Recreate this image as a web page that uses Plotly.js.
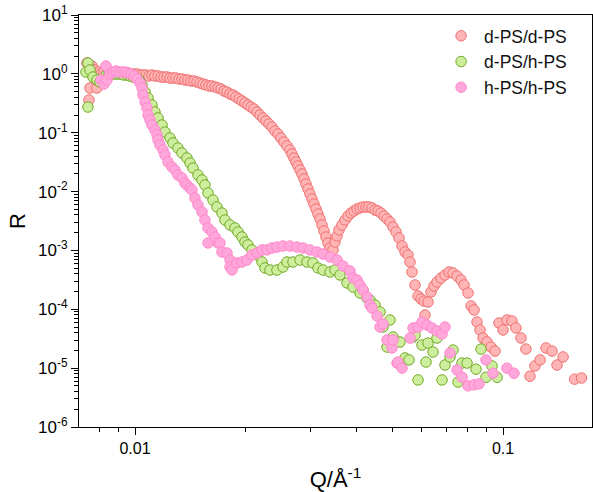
<!DOCTYPE html>
<html><head><meta charset="utf-8">
<script src="https://cdn.plot.ly/plotly-3.0.1.min.js"></script>
<style>html,body{margin:0;padding:0;background:#fff}#chart{width:593px;height:492px}</style>
</head><body><div id="chart"></div>
<script>
const seriesNames = ["d-PS/d-PS", "d-PS/h-PS", "h-PS/h-PS"];

// d-PS/d-PS
const q_dd = [0.007403,0.007496,0.007543,0.007638,0.007783,0.007881,0.007980,0.008081,0.008234,0.008390,0.008549,0.008711,0.008877,0.009045,0.009217,0.009392,0.009570,0.009751,0.009937,
0.01013,0.01032,0.01051,0.01071,0.01091,0.01112,0.01133,0.01155,0.01177,0.01199,0.01222,0.01245,0.01268,0.01292,0.01317,0.01342,0.01367,0.01393,0.01419,0.01446,0.01474,
0.01502,0.01530,0.01559,0.01589,0.01619,0.01650,0.01681,0.01713,0.01745,0.01778,0.01812,0.01846,0.01881,0.01917,0.01953,0.01990,0.02027,0.02066,0.02105,0.02145,
0.02186,0.02227,0.02269,0.02312,0.02356,0.02400,0.02446,0.02492,0.02540,0.02588,0.02637,0.02670,0.02704,0.02738,0.02772,0.02808,0.02843,0.02879,0.02915,0.02952,
0.02989,0.03026,0.03064,0.03103,0.03142,0.03182,0.03222,0.03262,0.03303,0.03345,0.03388,0.03452,0.03495,0.03539,0.03584,0.03652,0.03721,0.03792,0.03863,0.03936,
0.04011,0.04087,0.04164,0.04243,0.04324,0.04406,0.04489,0.04574,0.04661,0.04750,0.04840,0.04931,0.05025,0.05120,0.05217,0.05316,0.05417,0.05519,0.05589,0.05659,
0.05766,0.05876,0.05987,0.06100,0.06139,0.06255,0.06373,0.06494,0.06617,0.06785,0.06957,0.07134,0.07314,0.07500,0.07690,0.07836,0.08035,0.08187,0.08342,0.08500,
0.08661,0.08825,0.09047,0.09277,0.09512,0.09753,0.1000,0.1025,0.1058,0.1084,0.1119,0.1154,0.1184,0.1221,0.1261,0.1309,0.1359,0.1402,0.1456,0.1565,0.1634];
const r_dd = [1.529,0.360,0.575,1.360,1.163,0.575,1.075,0.994,1.075,1.034,1.075,1.034,1.075,1.034,1.034,0.994,1.034,0.994,0.994,
0.994,0.956,0.956,0.956,0.920,0.956,0.920,0.920,0.884,0.884,0.884,0.850,0.850,0.850,0.818,0.818,0.786,0.786,0.756,0.756,0.727,
0.699,0.672,0.647,0.622,0.622,0.598,0.575,0.553,0.511,0.492,0.455,0.437,0.404,0.374,0.346,0.320,0.296,0.273,0.253,0.225,
0.200,0.178,0.1582,0.1406,0.1250,0.1069,0.0951,0.0813,0.0696,0.0595,0.0509,0.0435,0.0372,0.0318,0.0272,0.02326,0.01989,0.01636,0.01345,0.01106,
0.00910,0.00748,0.00615,0.00506,0.00416,0.00342,0.00271,0.00214,0.00169,0.00134,0.00110,0.00102,0.00139,0.00176,0.00223,0.00271,0.00329,0.00385,0.00432,0.00468,
0.00506,0.00526,0.00547,0.00547,0.00547,0.00526,0.00486,0.00468,0.00432,0.00385,0.00342,0.00304,0.00250,0.00206,0.00163,0.00119,0.000941,0.000837,0.000636,0.000430,
0.000259,0.000168,0.000150,0.000138,0.0000800,0.000133,0.000197,0.000249,0.000291,0.000340,0.000383,0.000430,0.000414,0.000368,0.000315,0.000259,0.000189,0.000114,0.0000973,0.0000608,
0.0000445,0.0000325,0.0000278,0.0000228,0.0000195,0.0000585,0.0000445,0.0000658,0.0000633,0.0000481,0.0000325,0.0000211,0.0000073,0.0000109,0.0000138,0.0000220,0.0000195,0.0000113,0.0000155,0.0000065,0.0000068];

// d-PS/h-PS
const q_dh = [0.007357,0.007449,0.007449,0.007543,0.007686,0.007881,0.008030,0.008183,0.008338,0.008496,0.008657,0.008821,0.008989,0.009159,0.009333,0.009510,0.009690,0.009874,
0.01006,0.01025,0.01045,0.01065,0.01085,0.01112,0.01133,0.01155,0.01184,0.01206,0.01245,0.01268,0.01308,0.01342,0.01384,0.01411,0.01437,0.01483,0.01521,0.01549,
0.01579,0.01629,0.01670,0.01723,0.01756,0.01812,0.01869,0.01905,0.01953,0.01990,0.02027,0.02079,0.02145,0.02213,0.02255,0.02327,0.02431,0.02524,0.02588,0.02687,
0.02808,0.02933,0.03045,0.03142,0.03242,0.03388,0.03495,0.03606,0.03768,0.03912,0.04087,0.04164,0.04270,0.04351,0.04433,0.04489,0.04632,0.04720,0.04840,0.04931,
0.05025,0.05250,0.05417,0.05554,0.05695,0.05766,0.05876,0.06025,0.06177,0.06255,0.06454,0.06617,0.06828,0.06957,0.07178,0.07314,0.07547,0.07738,0.07984,0.08447,
0.08715,0.08991,0.09335,0.09632];
const r_dh = [1.075,1.529,0.273,1.163,0.884,0.786,0.727,0.786,0.920,0.956,0.994,0.994,0.994,0.994,0.956,0.956,0.920,0.884,
0.850,0.786,0.647,0.492,0.389,0.296,0.225,0.178,0.1352,0.1028,0.0813,0.0669,0.0550,0.0452,0.0372,0.0306,0.0251,0.01913,0.01573,0.01293,
0.00946,0.00719,0.00547,0.00432,0.00329,0.00271,0.00241,0.00206,0.00169,0.00139,0.00124,0.00102,0.000837,0.000636,0.000503,0.000465,0.000465,0.000523,0.000636,0.000636,
0.000688,0.000636,0.000612,0.000503,0.000465,0.000430,0.000465,0.000383,0.000280,0.000239,0.000189,0.000213,0.000156,0.000144,0.000109,0.000118,0.0000899,0.0000500,0.0000228,0.0000658,
0.0000338,0.0000278,0.0000149,0.0000138,0.0000338,0.0000366,0.0000063,0.0000247,0.0000127,0.0000267,0.0000188,0.0000325,0.0000063,0.0000113,0.0000155,0.0000203,0.0000058,0.0000122,0.0000122,0.0000096,
0.0000211,0.0000070,0.0000109,0.0000070];

// h-PS/h-PS
const q_hh = [0.008081,0.008234,0.008338,0.008390,0.008549,0.008711,0.008877,0.009045,0.009217,0.009392,0.009570,0.009751,0.009937,
0.01013,0.01032,0.01045,0.01051,0.01065,0.01078,0.01085,0.01098,0.01112,0.01133,0.01148,0.01155,0.01169,0.01192,0.01206,0.01229,0.01260,0.01284,0.01308,0.01342,0.01367,0.01384,0.01411,0.01428,0.01455,0.01483,
0.01521,0.01549,0.01579,0.01579,0.01619,0.01650,0.01681,0.01702,0.01723,0.01778,0.01812,0.01812,0.01835,0.01893,0.01953,0.02015,0.02079,0.02145,0.02213,0.02283,0.02356,
0.02431,0.02524,0.02637,0.02755,0.02861,0.02989,0.03122,0.03242,0.03388,0.03539,0.03675,0.03839,0.03912,0.04011,0.04087,0.04164,0.04270,0.04351,0.04406,0.04546,
0.04632,0.04720,0.04840,0.04993,0.05025,0.05152,0.05184,0.05316,0.05589,0.05695,0.05876,0.06025,0.06216,0.06413,0.06617,0.06828,0.06957,0.07178,0.07500,0.07738,
0.08035,0.08342,0.08607,0.08991,0.09394,0.1025,0.1071];
const r_hh = [0.786,0.672,1.360,0.786,0.994,1.075,1.118,1.075,1.075,1.075,1.034,0.994,0.920,
0.818,0.699,0.575,0.437,0.333,0.263,0.200,0.1645,0.1352,0.1112,0.0915,0.0752,0.0618,0.0509,0.0418,0.0318,0.0262,0.02326,0.01913,0.01701,0.01399,0.01293,0.01150,0.01064,0.00778,0.00592,
0.00450,0.00329,0.00241,0.00134,0.00206,0.00169,0.00134,0.00134,0.000941,0.000905,0.000688,0.000523,0.000465,0.000612,0.000636,0.000688,0.000837,0.000905,0.00102,0.00102,0.00110,
0.00114,0.00119,0.00119,0.00114,0.00110,0.00102,0.000941,0.000870,0.000774,0.000688,0.000544,0.000447,0.000340,0.000315,0.000259,0.000213,0.000162,0.000118,0.000105,0.0000769,
0.0000500,0.0000563,0.0000301,0.0000220,0.0000301,0.0000122,0.0000127,0.0000100,0.0000325,0.0000481,0.0000500,0.0000608,0.0000541,0.0000481,0.0000428,0.0000380,0.0000500,0.0000181,0.0000093,0.0000070,
0.0000050,0.0000052,0.0000054,0.0000138,0.0000082,0.0000100,0.0000082];

const xTickVals = [0.01, 0.1];
const xTickText = ["0.01", "0.1"];
const xMinorVals = [0.008, 0.009, 0.02, 0.03, 0.04, 0.05, 0.06, 0.07, 0.08, 0.09];
const yTickVals = [1e-6, 1e-5, 1e-4, 1e-3, 1e-2, 1e-1, 1, 10];
const yTickText = ["10<sup>-6</sup>", "10<sup>-5</sup>", "10<sup>-4</sup>", "10<sup>-3</sup>", "10<sup>-2</sup>", "10<sup>-1</sup>", "10<sup>0</sup>", "10<sup>1</sup>"];
const yMinorVals = [];
for (let e = -6; e <= 0; e++) { for (let m = 2; m <= 9; m++) { yMinorVals.push(m * Math.pow(10, e)); } }

const styles = [
  {fill: "#FFB5B5", edge: "#F07272"},
  {fill: "#CDEE9C", edge: "#74AA2A"},
  {fill: "#FFA6DA", edge: "#FF8ACD"}
];
const xs = [q_dd, q_dh, q_hh];
const ys = [r_dd, r_dh, r_hh];
const traces = seriesNames.map((n, i) => ({
  type: "scatter", mode: "markers", name: n, x: xs[i], y: ys[i],
  marker: {symbol: "circle", size: 10.5, color: styles[i].fill, line: {color: styles[i].edge, width: 1}},
  cliponaxis: true
}));

const FONT = "Arial, 'Liberation Sans', sans-serif";
const layout = {
  width: 593, height: 492,
  margin: {l: 79, r: 1, t: 15, b: 65},
  paper_bgcolor: "#fff", plot_bgcolor: "#fff",
  font: {family: FONT, color: "#000", size: 16},
  showlegend: true,
  legend: {x: 0.70, xanchor: "left", y: 0.993, yanchor: "top", bgcolor: "rgba(0,0,0,0)",
           itemwidth: 36, font: {family: FONT, size: 17.5, color: "#111"}},
  xaxis: {
    type: "log", range: [-2.1522, -0.7582],
    tickmode: "array", tickvals: xTickVals, ticktext: xTickText,
    ticks: "outside", ticklen: 7, tickwidth: 1, tickcolor: "#000",
    minor: {tickmode: "array", tickvals: xMinorVals, ticks: "outside", ticklen: 4, tickwidth: 1, tickcolor: "#000", showgrid: false},
    showline: true, linecolor: "#000", linewidth: 1, mirror: true,
    showgrid: false, zeroline: false,
    tickfont: {family: FONT, size: 16, color: "#000"},
    title: {text: "Q/Å<sup>-1</sup>", font: {family: FONT, size: 22, color: "#000"}, standoff: 16}
  },
  yaxis: {
    type: "log", range: [-6, 1],
    tickmode: "array", tickvals: yTickVals, ticktext: yTickText,
    ticks: "outside", ticklen: 7, tickwidth: 1, tickcolor: "#000",
    minor: {tickmode: "array", tickvals: yMinorVals, ticks: "outside", ticklen: 4, tickwidth: 1, tickcolor: "#000", showgrid: false},
    showline: true, linecolor: "#000", linewidth: 1, mirror: true,
    showgrid: false, zeroline: false,
    tickfont: {family: FONT, size: 17, color: "#000"},
    title: {text: "R", font: {family: FONT, size: 22, color: "#000"}, standoff: 6}
  }
};
Plotly.newPlot("chart", traces, layout, {displayModeBar: false, staticPlot: true});
</script>
</body></html>
